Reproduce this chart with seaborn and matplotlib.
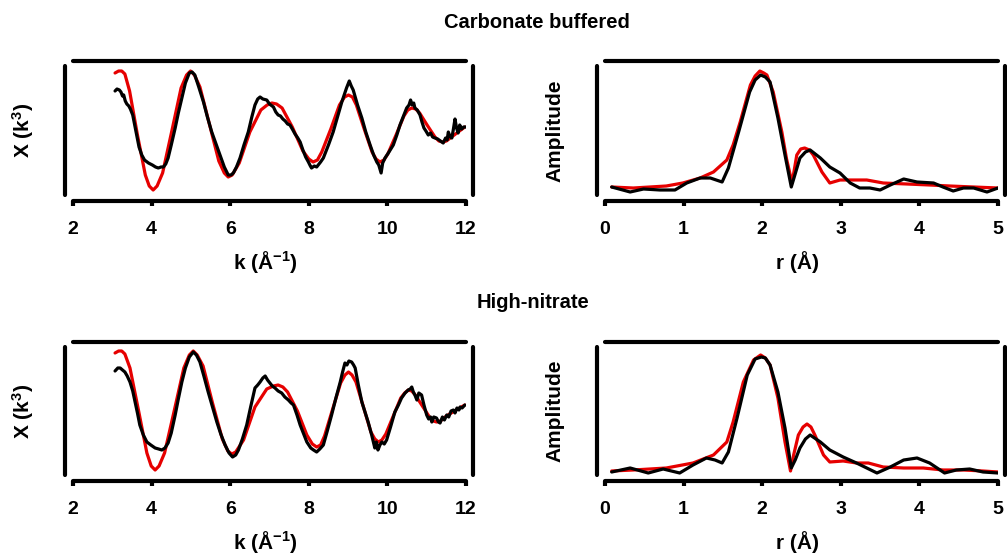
import matplotlib
matplotlib.use("Agg")
import matplotlib.pyplot as plt
import seaborn as sns
import numpy as np

# ---------------- data (arbitrary amplitude units) ----------------
# Carbonate buffered: k-space
cb_k_fit = [3.07, 3.16, 3.24, 3.32, 3.44, 3.64, 3.84, 3.94, 4.04, 4.14, 4.28, 4.52, 4.75, 4.89,
            4.99, 5.09, 5.23, 5.47, 5.71, 5.85, 5.95, 6.05, 6.23, 6.50, 6.78, 6.94, 7.06, 7.18,
            7.32, 7.58, 7.85, 8.00, 8.11, 8.22, 8.33, 8.56, 8.78, 8.91, 9.01, 9.11, 9.21, 9.41,
            9.61, 9.71, 9.81, 9.91, 10.01, 10.22, 10.42, 10.52, 10.62, 10.72, 10.82, 11.01, 11.21,
            11.31, 11.41, 11.50, 11.60, 11.80, 11.97]
cb_chi_fit = [122, 124, 124, 121, 104, 60, 20, 9, 5, 9, 22, 65, 107, 120,
              124, 120, 108, 71, 34, 22, 18, 20, 32, 63, 85, 90, 92, 91,
              87, 68, 44, 36, 33, 35, 43, 66, 90, 98, 100, 98, 90, 66,
              43, 36, 33, 35, 41, 60, 79, 85, 87, 86, 82, 70, 58,
              54, 53, 54, 57, 63, 68]
cb_k_data = [3.07, 3.12, 3.18, 3.22, 3.26, 3.29, 3.33, 3.37, 3.42, 3.46, 3.52, 3.57, 3.62, 3.68,
             3.75, 3.82, 3.92, 4.02, 4.10, 4.17, 4.24, 4.30, 4.36, 4.42, 4.50, 4.60, 4.68, 4.77,
             4.86, 4.96, 5.03, 5.10, 5.20, 5.32, 5.42, 5.53, 5.64, 5.74, 5.85, 5.95, 6.02, 6.08,
             6.16, 6.25, 6.35, 6.46, 6.55, 6.63, 6.70, 6.76, 6.83, 6.93, 7.00, 7.10, 7.16, 7.22,
             7.28, 7.34, 7.40, 7.46, 7.52, 7.58, 7.65, 7.72, 7.78, 7.85, 7.92, 7.99, 8.04, 8.07,
             8.14, 8.20, 8.24, 8.30, 8.37, 8.50, 8.62, 8.73, 8.84, 8.90, 8.96, 9.03, 9.08, 9.13,
             9.24, 9.35, 9.45, 9.56, 9.65, 9.73, 9.78, 9.84, 9.88, 9.94, 10.04, 10.15, 10.24, 10.32,
             10.40, 10.49, 10.55, 10.59, 10.63, 10.67, 10.70, 10.76, 10.83, 10.88, 10.93, 10.98,
             11.04, 11.10, 11.15, 11.21, 11.28, 11.35, 11.42, 11.48, 11.52, 11.55, 11.60, 11.64,
             11.68, 11.72, 11.76, 11.80, 11.84, 11.89, 11.94, 12.00]
cb_chi_data = [104, 106, 105, 103, 99, 100, 94, 91, 89, 86, 80, 70, 60, 48,
               40, 35, 32, 30, 28, 27, 28, 28, 31, 37, 50, 67, 82, 97,
               112, 122, 123, 120, 108, 93, 78, 63, 51, 40, 28, 20, 20, 22,
               28, 37, 50, 63, 78, 90, 96, 98, 96, 95, 91, 88, 83, 80,
               79, 76, 74, 71, 70, 66, 61, 57, 53, 45, 38, 33, 29, 27,
               29, 28, 30, 33, 37, 50, 63, 78, 93, 100, 107, 114, 109, 105,
               90, 77, 63, 50, 40, 33, 30, 22, 32, 37, 43, 50, 60, 70,
               78, 87, 90, 95, 90, 92, 87, 85, 80, 73, 67, 64,
               60, 62, 58, 57, 56, 54, 52, 57, 55, 63, 58, 57,
               66, 76, 67, 62, 70, 66, 68, 68]

# Carbonate buffered: r-space
cb_r_fit = [0.085, 0.36, 0.78, 0.99, 1.21, 1.38, 1.55, 1.63, 1.72, 1.85, 1.91, 1.97, 2.02, 2.06,
            2.14, 2.25, 2.31, 2.38, 2.44, 2.49, 2.54, 2.60, 2.65, 2.76, 2.86, 2.99, 3.20, 3.33,
            3.54, 3.84, 4.13, 4.39, 4.69, 5.00]
cb_amp_fit = [8, 7, 9, 12, 17, 23, 35, 50, 73, 110, 119, 124, 122, 120,
              103, 63, 36, 12, 40, 46, 47, 45, 40, 23, 12, 15, 15, 15,
              12, 11, 10, 9, 8, 7]
cb_r_data = [0.085, 0.32, 0.49, 0.70, 0.89, 1.04, 1.21, 1.34, 1.49, 1.57, 1.70, 1.84, 1.91, 1.98,
             2.04, 2.10, 2.20, 2.29, 2.37, 2.48, 2.55, 2.61, 2.74, 2.86, 2.99, 3.12, 3.24, 3.37,
             3.50, 3.63, 3.80, 3.97, 4.18, 4.30, 4.43, 4.56, 4.69, 4.86, 5.00]
cb_amp_data = [8, 3, 6, 5, 5, 12, 17, 17, 13, 27, 63, 103, 115, 120,
               118, 113, 77, 40, 8, 37, 43, 45, 37, 28, 22, 12, 7, 7,
               5, 10, 16, 13, 12, 8, 4, 7, 7, 3, 7]

# High-nitrate: k-space
hn_k_fit = [3.07, 3.16, 3.24, 3.32, 3.45, 3.67, 3.88, 3.99, 4.09, 4.19, 4.33, 4.58, 4.82, 4.96,
            5.06, 5.16, 5.31, 5.55, 5.80, 5.94, 6.04, 6.14, 6.34, 6.63, 6.93, 7.10, 7.22, 7.34,
            7.46, 7.71, 7.95, 8.09, 8.20, 8.30, 8.40, 8.60, 8.81, 8.92, 9.01, 9.10, 9.20, 9.39,
            9.58, 9.68, 9.77, 9.86, 9.96, 10.15, 10.34, 10.44, 10.53, 10.62, 10.71, 10.89, 11.07,
            11.17, 11.25, 11.35, 11.50, 11.75, 11.97]
hn_chi_fit = [122, 124, 124, 121, 107, 64, 22, 9, 5, 9, 22, 65, 107, 120,
              124, 120, 109, 72, 36, 24, 21, 23, 35, 68, 86, 89, 90, 88,
              83, 64, 40, 31, 28, 30, 39, 65, 92, 100, 103, 100, 93, 68,
              43, 36, 33, 35, 41, 59, 77, 82, 85, 84, 80, 69, 58,
              54, 53, 54, 59, 65, 70]
hn_k_data = [3.07, 3.14, 3.20, 3.26, 3.32, 3.38, 3.45, 3.52, 3.58, 3.64, 3.70, 3.79, 3.88, 3.98,
             4.09, 4.18, 4.26, 4.34, 4.42, 4.50, 4.60, 4.68, 4.77, 4.86, 4.96, 5.06, 5.14, 5.23,
             5.33, 5.44, 5.55, 5.66, 5.76, 5.87, 5.97, 6.06, 6.14, 6.21, 6.31, 6.42, 6.52, 6.63,
             6.70, 6.76, 6.83, 6.89, 6.95, 7.01, 7.07, 7.14, 7.22, 7.31, 7.39, 7.48, 7.55, 7.61,
             7.70, 7.78, 7.87, 7.95, 8.05, 8.12, 8.20, 8.28, 8.37, 8.47, 8.58, 8.69, 8.80, 8.86,
             8.92, 8.97, 9.02, 9.09, 9.14, 9.18, 9.26, 9.35, 9.43, 9.51, 9.60, 9.68, 9.72, 9.76,
             9.81, 9.86, 9.92, 9.98, 10.08, 10.19, 10.28, 10.36, 10.45, 10.53, 10.58, 10.62, 10.66,
             10.70, 10.75, 10.80, 10.87, 10.93, 11.00, 11.05, 11.10, 11.13, 11.18, 11.25, 11.30,
             11.34, 11.40, 11.45, 11.51, 11.56, 11.62, 11.68, 11.72, 11.77, 11.82, 11.85, 11.90, 11.97]
hn_chi_data = [104, 107, 107, 105, 103, 99, 93, 84, 73, 62, 50, 40, 33, 30,
               27, 26, 25, 27, 32, 42, 60, 76, 93, 107, 118, 123, 120, 113,
               99, 83, 68, 53, 41, 30, 22, 18, 20, 25, 36, 50, 68, 87,
               90, 93, 97, 99, 95, 92, 89, 87, 84, 82, 78, 75, 72, 70,
               60, 50, 41, 33, 27, 25, 23, 26, 30, 44, 60, 77, 93, 103,
               112, 110, 114, 113, 110, 107, 90, 73, 63, 53, 40, 27, 33, 25,
               30, 33, 31, 35, 48, 63, 70, 77, 82, 85, 86, 88, 83,
               80, 75, 82, 80, 70, 60, 56, 58, 53, 58, 57, 53,
               52, 58, 55, 60, 58, 64, 65, 62, 67, 65, 68, 67, 70]

# High-nitrate: r-space
hn_r_fit = [0.085, 0.36, 0.78, 1.12, 1.38, 1.55, 1.63, 1.76, 1.89, 1.98, 2.04, 2.10, 2.20, 2.29,
            2.36, 2.40, 2.46, 2.52, 2.57, 2.62, 2.67, 2.78, 2.86, 3.03, 3.20, 3.35, 3.54, 3.80,
            4.05, 4.30, 4.56, 4.81, 5.00]
hn_amp_fit = [4, 5, 7, 12, 20, 33, 53, 93, 115, 120, 117, 110, 77, 33,
              4, 20, 40, 48, 51, 48, 40, 20, 13, 14, 12, 12, 8, 7,
              7, 5, 5, 4, 3]
hn_r_data = [0.085, 0.32, 0.55, 0.74, 0.95, 1.12, 1.29, 1.40, 1.49, 1.57, 1.68, 1.81, 1.91, 1.99,
             2.04, 2.10, 2.20, 2.29, 2.37, 2.42, 2.48, 2.55, 2.61, 2.74, 2.86, 3.03, 3.20, 3.33,
             3.46, 3.63, 3.80, 3.97, 4.13, 4.32, 4.47, 4.64, 4.81, 5.00]
hn_amp_data = [3, 7, 2, 6, 2, 10, 17, 15, 12, 23, 57, 100, 116, 118,
               117, 110, 83, 47, 7, 15, 27, 36, 40, 33, 25, 18, 12, 7,
               2, 8, 15, 17, 12, 2, 5, 6, 3, 2]

k_ticks = [2, 4, 6, 8, 10, 12]
r_ticks = [0, 1, 2, 3, 4, 5]
titles = ["Carbonate buffered", "High-nitrate"]

# ---------------- style ----------------
sns.set_style("white")
plt.rcParams["font.family"] = ["Liberation Sans", "DejaVu Sans"]
plt.rcParams["font.weight"] = "bold"
plt.rcParams["axes.labelweight"] = "bold"
plt.rcParams["text.color"] = "black"
plt.rcParams["axes.labelcolor"] = "black"
plt.rcParams["xtick.color"] = "black"
plt.rcParams["mathtext.fontset"] = "custom"
plt.rcParams["mathtext.rm"] = "Liberation Sans:bold"
plt.rcParams["mathtext.it"] = "Liberation Sans:bold"
plt.rcParams["mathtext.bf"] = "Liberation Sans:bold"
plt.rcParams["mathtext.default"] = "rm"

W, H = 1007, 557
fig = plt.figure(figsize=(W / 100, H / 100), dpi=100)

def px_axes(x0, x1, ytop, ybot):
    return fig.add_axes([x0 / W, 1 - ybot / H, (x1 - x0) / W, (ybot - ytop) / H])

RED = "#e60000"
BLK = "#000000"

def style(ax, xlim, ylim, ticks, xlabel, ylabel, xl_y):
    ax.set_xlim(*xlim)
    ax.set_ylim(*ylim)
    ax.set_xticks(ticks)
    ax.set_xticklabels([str(t) for t in ticks])
    ax.set_yticks([])
    for side, off in {"left": 5.8, "right": 5.0, "top": 3.6, "bottom": 4.0}.items():
        sp = ax.spines[side]
        sp.set_visible(True)
        sp.set_position(("outward", off))
        sp.set_linewidth(3.0)
        sp.set_color("black")
        sp.set_capstyle("round")
    ax.tick_params(axis="x", bottom=True, top=False, direction="out", length=3.5,
                   width=3, pad=11, labelsize=14, colors="black", labelcolor="black")
    ax.set_xlabel(xlabel, fontsize=15, fontweight="bold", color="black")
    ax.xaxis.label.set_va("center")
    ax.xaxis.set_label_coords(0.49, xl_y)
    ax.set_ylabel(ylabel, fontsize=15, fontweight="bold", color="black")
    ax.yaxis.label.set_va("center")
    ax.yaxis.label.set_ha("center")
    ax.yaxis.set_label_coords(-0.127, 0.5)
    ax.set_facecolor("white")

panels = [
    (73, 466, 66, 195, cb_k_fit, cb_chi_fit, cb_k_data, cb_chi_data, (2, 12), (0, 129), k_ticks,
     "k (Å$^{-1}$)", "X (k$^{3}$)"),
    (605, 998, 66, 195, cb_r_fit, cb_amp_fit, cb_r_data, cb_amp_data, (0, 5), (0, 129), r_ticks,
     "r (Å)", "Amplitude"),
    (73, 466, 347, 475, hn_k_fit, hn_chi_fit, hn_k_data, hn_chi_data, (2, 12), (0, 128), k_ticks,
     "k (Å$^{-1}$)", "X (k$^{3}$)"),
    (605, 998, 347, 475, hn_r_fit, hn_amp_fit, hn_r_data, hn_amp_data, (0, 5), (0, 128), r_ticks,
     "r (Å)", "Amplitude"),
]

for (x0, x1, yt, yb, xf, yf, xd, yd, xlim, ylim, ticks, xlab, ylab) in panels:
    ax = px_axes(x0, x1, yt, yb)
    sns.lineplot(x=xf, y=yf, ax=ax, color=RED, linewidth=2.3, estimator=None, sort=False)
    sns.lineplot(x=xd, y=yd, ax=ax, color=BLK, linewidth=2.3, estimator=None, sort=False)
    for ln in ax.lines:
        ln.set_solid_joinstyle("round")
        ln.set_solid_capstyle("round")
    style(ax, xlim, ylim, ticks, xlab, ylab, -0.52)

fig.text(537 / W, 1 - 22 / H, titles[0], ha="center", va="center", fontsize=14.5,
         fontweight="bold", color="black")
fig.text(533 / W, 1 - 303 / H, titles[1], ha="center", va="center", fontsize=14.5,
         fontweight="bold", color="black")

fig.savefig("out.png", dpi=100, facecolor="white")
